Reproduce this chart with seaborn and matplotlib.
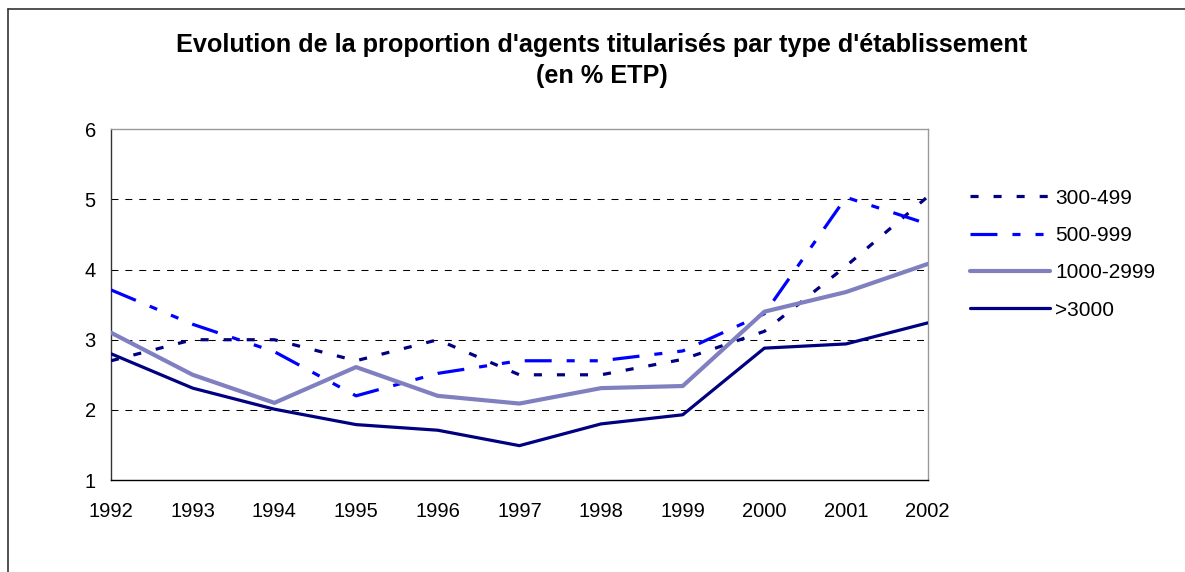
import pandas as pd
import matplotlib
matplotlib.use('Agg')
import matplotlib.pyplot as plt
import seaborn as sns
from matplotlib.lines import Line2D

years = [1992, 1993, 1994, 1995, 1996, 1997, 1998, 1999, 2000, 2001, 2002]

s_300_499 = [2.70, 3.00, 3.00, 2.70, 3.00, 2.50, 2.50, 2.72, 3.12, 4.05, 5.04]
s_500_999 = [3.71, 3.22, 2.83, 2.20, 2.52, 2.70, 2.70, 2.84, 3.37, 5.03, 4.65]
s_1000_2999 = [3.10, 2.50, 2.10, 2.61, 2.20, 2.09, 2.31, 2.34, 3.40, 3.68, 4.08]
s_3000 = [2.80, 2.31, 2.01, 1.79, 1.71, 1.49, 1.80, 1.93, 2.88, 2.94, 3.24]

series_names = ["300-499", "500-999", "1000-2999", ">3000"]

df = pd.DataFrame({"year": years,
                   "300-499": s_300_499,
                   "500-999": s_500_999,
                   "1000-2999": s_1000_2999,
                   ">3000": s_3000})
long_df = df.melt(id_vars="year", var_name="serie", value_name="val")

sns.set_style("white")
plt.rcParams['font.family'] = ['Liberation Sans', 'DejaVu Sans']
plt.rcParams['lines.scale_dashes'] = False
plt.rcParams['text.color'] = 'black'
plt.rcParams['xtick.color'] = 'black'
plt.rcParams['ytick.color'] = 'black'

styles = {
    "300-499": dict(color="#000080", lw=2.3, ls=(0, (5.8, 10.8))),
    "500-999": dict(color="#0000FF", lw=2.3, ls=(0, (19.4, 10.8, 5.8, 10.8, 5.8, 10.8))),
    "1000-2999": dict(color="#8080C0", lw=3.0, ls="-"),
    ">3000": dict(color="#000080", lw=2.3, ls="-"),
}

fig = plt.figure(figsize=(11.85, 5.72), dpi=100)
ax = fig.add_axes([0.0937, 0.1608, 0.6892, 0.6132])

for name in series_names:
    st = styles[name]
    sub = long_df[long_df["serie"] == name]
    sns.lineplot(data=sub, x="year", y="val", ax=ax, color=st["color"],
                 linewidth=st["lw"], linestyle=st["ls"], label=name,
                 legend=False, zorder=3)

ax.set_xlim(1992, 2002)
ax.set_ylim(1, 6)
ax.set_xticks(years)
ax.set_yticks([1, 2, 3, 4, 5, 6])
ax.set_xlabel("")
ax.set_ylabel("")

for v in [2, 3, 4, 5]:
    ax.axhline(v, color="black", lw=0.75, linestyle=(0, (5, 5)), zorder=1)

ax.spines["left"].set_color("#333333")
ax.spines["bottom"].set_color("black")
ax.spines["top"].set_color("#999999")
ax.spines["right"].set_color("#999999")
for sp in ax.spines.values():
    sp.set_linewidth(1.0)
    sp.set_visible(True)

ax.tick_params(axis="x", direction="inout", length=8, width=0.8, labelsize=14.5, pad=12)
ax.tick_params(axis="y", direction="out", length=5, width=0.8, labelsize=14.5, pad=6)

fig.text(0.508, 0.921, "Evolution de la proportion d'agents titularisés par type d'établissement",
         ha="center", va="center", fontsize=18.2, fontweight="bold")
fig.text(0.508, 0.867, "(en % ETP)", ha="center", va="center", fontsize=18.2, fontweight="bold")

handles = [Line2D([0], [0], color=styles[n]["color"], lw=styles[n]["lw"], linestyle=styles[n]["ls"])
           for n in series_names]
fig.legend(handles, series_names, loc="upper left", bbox_to_anchor=(0.8186, 0.67),
           frameon=False, fontsize=15, handlelength=3.85, handletextpad=0.25,
           labelspacing=0.88, borderpad=0, borderaxespad=0)

# cadre autour du graphique
fig.add_artist(Line2D([8 / 1185, 1.0], [1 - 9 / 572, 1 - 9 / 572], color="#333333", lw=1.2))
fig.add_artist(Line2D([8 / 1185, 8 / 1185], [0, 1 - 9 / 572], color="#333333", lw=1.2))

fig.savefig("out.png", dpi=100, facecolor="white")
